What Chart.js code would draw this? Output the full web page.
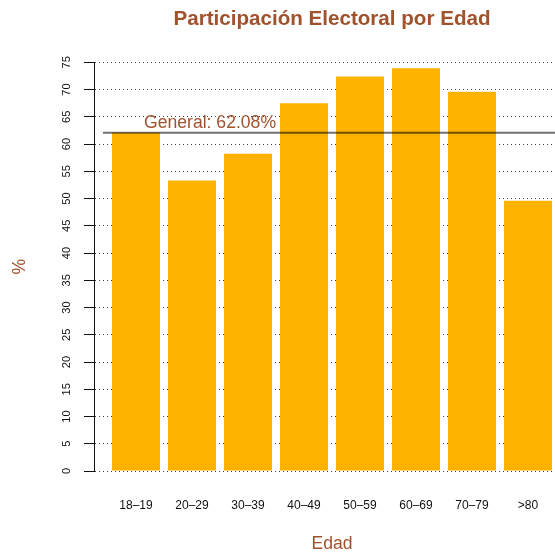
<!DOCTYPE html>
<html>
<head>
<meta charset="utf-8">
<script src="https://cdn.jsdelivr.net/npm/chart.js@4"></script>
<style>
  html, body { margin: 0; padding: 0; background: #fff; }
  #wrap { width: 555px; height: 555px; position: relative; }
</style>
</head>
<body>
<div id="wrap"><canvas id="chart"></canvas></div>
<script>
// Datos
const ageGroups = ['18–19', '20–29', '30–39', '40–49', '50–59', '60–69', '70–79', '>80'];
const turnout = [62.1, 53.3, 58.2, 67.5, 72.4, 73.9, 69.6, 49.6];
const general = 62.08;
const yMin = 0;
const yMax = 75;
const yStep = 5;

const sienna = '#A0522D';
Chart.defaults.font.family = '"Liberation Sans", Arial, sans-serif';

// reference line + label, and shift of the bar scale away from the y axis
const generalLine = {
    id: 'generalLine',
    afterLayout(chart) {
        const x = chart.scales.x;
        x.left = chart.chartArea.left + 14;
        x.right = chart.chartArea.right + 1;
        x.width = x.right - x.left;
        x.configure();
        const t = chart.titleBlock;
        t.left = x.left;
        t.right = x.right;
        t.width = x.width;
    },
    afterDatasetsDraw(chart) {
        const { ctx, chartArea, scales: { x, y } } = chart;
        const py = y.getPixelForValue(general);
        ctx.save();
        ctx.strokeStyle = 'rgba(0,0,0,0.56)';
        ctx.lineWidth = 2;
        ctx.beginPath();
        ctx.moveTo(chartArea.left + 9, py);
        ctx.lineTo(chartArea.right, py);
        ctx.stroke();
        ctx.fillStyle = sienna;
        ctx.font = '17.6px "Liberation Sans", Arial, sans-serif';
        ctx.textAlign = 'center';
        ctx.textBaseline = 'alphabetic';
        ctx.fillText('General: ' + general.toFixed(2) + '%', x.getPixelForValue(0) + 74, py - 4.4);
        ctx.restore();
    }
};

new Chart(document.getElementById('chart'), {
    type: 'bar',
    data: {
        labels: ageGroups,
        datasets: [{
            data: turnout,
            backgroundColor: '#FFB300',
            borderWidth: 0,
            barPercentage: 48 / 56,
            categoryPercentage: 1
        }]
    },
    options: {
        responsive: true,
        maintainAspectRatio: false,
        animation: false,
        layout: { padding: 0 },
        plugins: {
            legend: { display: false },
            tooltip: { enabled: false },
            title: {
                display: true,
                text: 'Participación Electoral por Edad',
                color: sienna,
                fullSize: false,
                font: { size: 20.6, weight: 'bold' },
                padding: { top: 7, bottom: 30.6 }
            }
        },
        scales: {
            x: {
                offset: true,
                grid: { display: false, drawTicks: true, tickLength: 26 },
                border: { display: false },
                ticks: { padding: 1, color: '#111', font: { size: 12 }, maxRotation: 0, autoSkip: false },
                title: {
                    display: true, text: 'Edad', color: sienna,
                    font: { size: 17.6 }, padding: { top: 0, bottom: 0 }
                },
                afterFit: s => { s.height = 84; }
            },
            y: {
                min: yMin,
                max: yMax,
                ticks: {
                    stepSize: yStep, minRotation: 90, maxRotation: 90, crossAlign: 'center',
                    padding: 11, color: '#111', font: { size: 11 }
                },
                grid: {
                    color: '#444', lineWidth: 1, tickLength: 10,
                    tickColor: '#111', tickWidth: 1, tickBorderDash: []
                },
                border: { display: true, color: '#111', width: 1, dash: [1, 3] },
                title: {
                    display: true, text: '%', color: sienna,
                    font: { size: 17.6 }, padding: { top: 9.5, bottom: 0 }
                },
                afterFit: s => { s.width = 94; }
            }
        }
    },
    plugins: [generalLine]
});
</script>
</body>
</html>
